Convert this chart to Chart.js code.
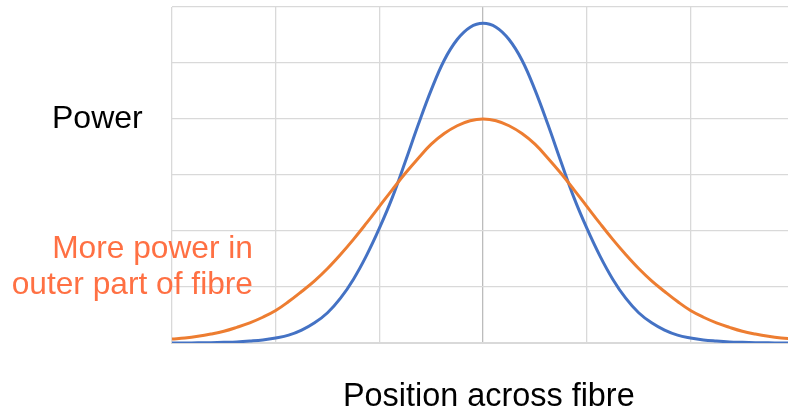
<!DOCTYPE html>
<html>
<head>
<meta charset="utf-8">
<script src="https://cdn.jsdelivr.net/npm/chart.js@4/dist/chart.umd.min.js"></script>
<style>
  html, body { margin: 0; padding: 0; background: #fff; }
  #wrap { position: relative; width: 788px; height: 412px; overflow: hidden; }
  #chart { position: absolute; left: 0; top: 0; }
  .lbl { position: absolute; font-family: "Liberation Sans", Arial, sans-serif; font-size: 32px; white-space: nowrap; line-height: 1; }
  #power { left: 52px; top: 101px; color: #000; }
  #note { right: 535px; top: 229px; color: #FF7043; text-align: right; line-height: 36px; font-size: 31.7px; }
  #xtitle { left: 343px; top: 379px; color: #000; font-size: 32.4px; }
</style>
</head>
<body>
<div id="wrap">
  <canvas id="chart" width="788" height="412"></canvas>
  <div class="lbl" id="power">Power</div>
  <div class="lbl" id="note">More power in<br>outer part of fibre</div>
  <div class="lbl" id="xtitle">Position across fibre</div>
</div>
<script>
// position across the fibre, centre at 0
const position = [-3, -2.875, -2.75, -2.625, -2.5, -2.375, -2.25, -2.125, -2, -1.875, -1.75, -1.625,
                  -1.5, -1.375, -1.25, -1.125, -1, -0.875, -0.75, -0.625, -0.5, -0.375, -0.25, -0.125,
                  0,
                  0.125, 0.25, 0.375, 0.5, 0.625, 0.75, 0.875, 1, 1.125, 1.25, 1.375, 1.5,
                  1.625, 1.75, 1.875, 2, 2.125, 2.25, 2.375, 2.5, 2.625, 2.75, 2.875, 3];
// power profile, narrow mode (blue)
const powerNarrow = [0, 0.001, 0.003, 0.006, 0.012, 0.02, 0.035, 0.055, 0.09, 0.14, 0.23, 0.36,
                     0.54, 0.80, 1.14, 1.56, 2.05, 2.60, 3.24, 3.90, 4.52, 5.05, 5.42, 5.64,
                     5.71,
                     5.64, 5.42, 5.05, 4.52, 3.90, 3.24, 2.60, 2.05, 1.56, 1.14, 0.80, 0.54,
                     0.36, 0.23, 0.14, 0.09, 0.055, 0.035, 0.02, 0.012, 0.006, 0.003, 0.001, 0];
// power profile, wide mode (orange)
const powerWide = [0.07, 0.09, 0.12, 0.16, 0.21, 0.28, 0.36, 0.46, 0.58, 0.74, 0.92, 1.11,
                   1.33, 1.58, 1.85, 2.14, 2.44, 2.74, 3.03, 3.30, 3.55, 3.74, 3.88, 3.97,
                   4.0,
                   3.97, 3.88, 3.74, 3.55, 3.30, 3.03, 2.74, 2.44, 2.14, 1.85, 1.58, 1.33,
                   1.11, 0.92, 0.74, 0.58, 0.46, 0.36, 0.28, 0.21, 0.16, 0.12, 0.09, 0.07];
const xGrid = [-3, -2, -1, 0, 1, 2];
const yGrid = [0, 1, 2, 3, 4, 5, 6];

const toPoints = (ys) => position.map((x, i) => ({ x: x, y: ys[i] }));

const config = {
  type: 'line',
  data: {
    datasets: [
      {
        label: 'wide',
        data: toPoints(powerWide),
        borderColor: '#ED7D31',
        borderWidth: 3,
        pointRadius: 0,
        tension: 0.4
      },
      {
        label: 'narrow',
        data: toPoints(powerNarrow),
        borderColor: '#4472C4',
        borderWidth: 3,
        pointRadius: 0,
        tension: 0.4
      }
    ]
  },
  options: {
    responsive: false,
    animation: false,
    layout: { padding: { left: 172, top: 7, right: 0, bottom: 69 } },
    plugins: { legend: { display: false }, tooltip: { enabled: false } },
    scales: {
      x: {
        type: 'linear',
        min: -3,
        max: 2.94,
        afterBuildTicks: (axis) => { axis.ticks = xGrid.map(v => ({ value: v })); },
        ticks: { display: false },
        grid: {
          color: (ctx) => ctx.tick && ctx.tick.value === 0 ? '#bcbcbc' : '#d9d9d9',
          lineWidth: 1.3,
          drawTicks: false
        },
        border: { color: '#d9d9d9', width: 2 }
      },
      y: {
        min: 0,
        max: 6,
        afterBuildTicks: (axis) => { axis.ticks = yGrid.map(v => ({ value: v })); },
        ticks: { display: false },
        grid: { color: '#d9d9d9', lineWidth: 1.3, drawTicks: false },
        border: { display: false }
      }
    }
  }
};

new Chart(document.getElementById('chart'), config);
</script>
</body>
</html>
